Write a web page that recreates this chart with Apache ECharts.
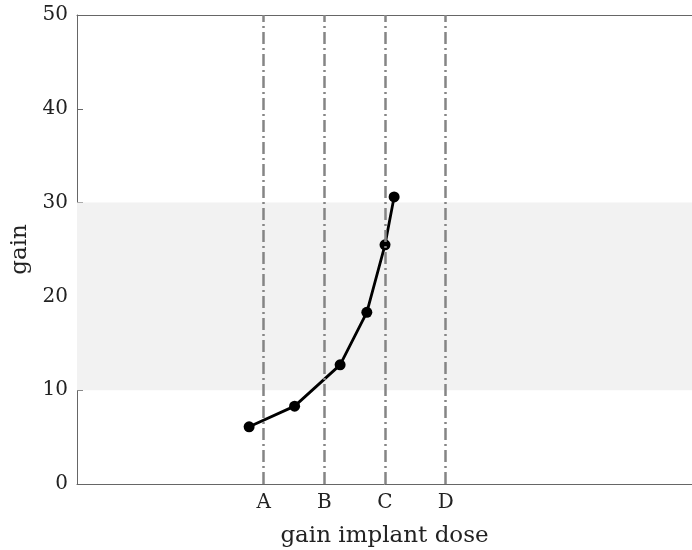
<!DOCTYPE html>
<html>
<head>
<meta charset="utf-8">
<script src="https://cdn.jsdelivr.net/npm/echarts@6/dist/echarts.min.js"></script>
<style>
html,body{margin:0;padding:0;background:#fff;}
#chart{width:692px;height:550px;}
</style>
</head>
<body>
<div id="chart"></div>
<script>
// Dose category labels and their positions on the dose axis
const doseLabels = ['A', 'B', 'C', 'D'];
const dosePositions = [1, 2, 3, 4];
// Measured curve
const doseX = [0.76, 1.51, 2.26, 2.70, 3.00, 3.15];
const gainY = [6.1, 8.3, 12.7, 18.3, 25.5, 30.6];
// Target band on gain
const bandLow = 10;
const bandHigh = 30;
// Axis ranges
const xMin = -2.077, xMax = 8.06;
const yTicks = [0, 10, 20, 30, 40, 50];

const fontFamily = '"DejaVu Serif", "Liberation Serif", serif';
const axisColor = '#666';

const chart = echarts.init(document.getElementById('chart'), null, {renderer: 'canvas'});
chart.setOption({
  animation: false,
  backgroundColor: '#fff',
  grid: {left: 77, top: 15, right: 0, bottom: 66, containLabel: false, outerBoundsMode: 'none'},
  xAxis: [{
    type: 'value',
    min: xMin, max: xMax,
    name: 'gain implant dose',
    nameLocation: 'middle',
    nameGap: 41,
    nameTextStyle: {fontFamily, fontSize: 23, color: '#222', verticalAlign: 'top'},
    axisLine: {show: true, onZero: false, lineStyle: {color: axisColor, width: 1}},
    axisTick: {show: true, inside: true, length: 7, customValues: dosePositions, lineStyle: {color: axisColor}},
    axisLabel: {
      show: true, margin: 9, customValues: dosePositions,
      fontFamily, fontSize: 20, color: '#222',
      formatter: v => doseLabels[dosePositions.indexOf(Math.round(v))] || ''
    },
    splitLine: {show: false}
  }, {
    type: 'value', position: 'top',
    min: xMin, max: xMax,
    axisLine: {show: true, onZero: false, lineStyle: {color: axisColor, width: 1}},
    axisTick: {show: false}, axisLabel: {show: false}, splitLine: {show: false}
  }],
  yAxis: {
    type: 'value',
    min: yTicks[0], max: yTicks[yTicks.length - 1], interval: 10,
    name: 'gain',
    nameLocation: 'middle',
    nameRotate: 90,
    nameGap: 42,
    nameTextStyle: {fontFamily, fontSize: 23, color: '#222'},
    axisLine: {show: true, onZero: false, lineStyle: {color: axisColor, width: 1}},
    axisTick: {show: true, inside: true, length: 6, lineStyle: {color: axisColor}},
    axisLabel: {margin: 9, fontFamily, fontSize: 20, color: '#222'},
    splitLine: {show: false}
  },
  series: [{
    type: 'line',
    data: [],
    z: 1,
    silent: true,
    markArea: {
      silent: true,
      itemStyle: {color: '#f2f2f2'},
      data: [[{yAxis: bandLow}, {yAxis: bandHigh}]]
    },
    markLine: {
      silent: true,
      symbol: ['none', 'none'],
      label: {show: false},
      lineStyle: {color: '#858585', width: 2.5, type: [12, 4, 2, 4]},
      data: dosePositions.map(p => ({xAxis: p}))
    }
  }, {
    type: 'line',
    z: 3,
    data: doseX.map((x, i) => [x, gainY[i]]),
    symbol: 'circle',
    symbolSize: 11,
    lineStyle: {color: '#000', width: 2.8},
    itemStyle: {color: '#000'}
  }]
});
</script>
</body>
</html>
